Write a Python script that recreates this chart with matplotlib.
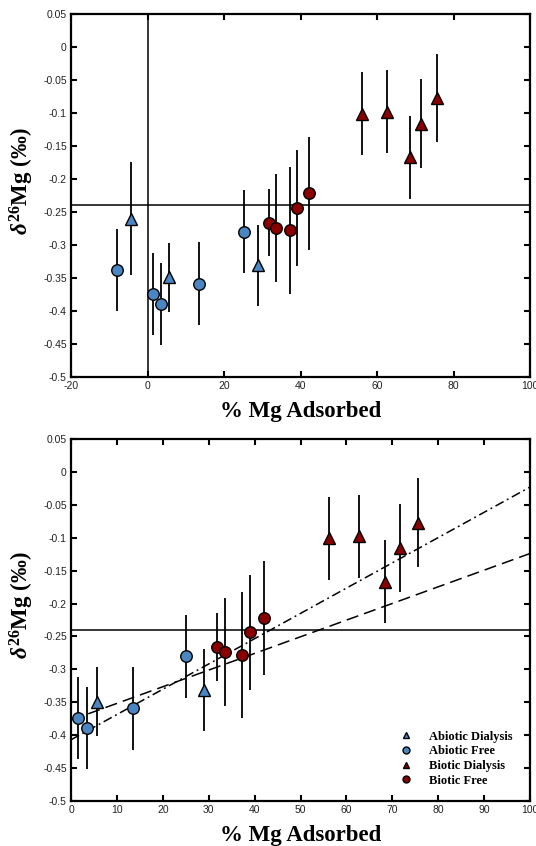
import numpy as np
import matplotlib
matplotlib.use("Agg")
import matplotlib.pyplot as plt
from matplotlib.ticker import FixedLocator, FixedFormatter

plt.rcParams['axes.unicode_minus'] = False
plt.rcParams['mathtext.fontset'] = 'custom'
plt.rcParams['mathtext.rm'] = 'Liberation Serif:bold'
plt.rcParams['mathtext.it'] = 'Liberation Serif:bold:italic'
plt.rcParams['mathtext.bf'] = 'Liberation Serif:bold'

# data
abiotic_dial_x = [-4.3, 5.7, 29.0]
abiotic_dial_y = [-0.260, -0.349, -0.331]
abiotic_dial_err = [0.086, 0.052, 0.062]

abiotic_free_x = [-7.9, 1.5, 3.5, 13.5, 25.1]
abiotic_free_y = [-0.338, -0.374, -0.389, -0.359, -0.280]
abiotic_free_err = [0.062, 0.062, 0.062, 0.063, 0.063]

biotic_dial_x = [56.1, 62.7, 68.5, 71.6, 75.7]
biotic_dial_y = [-0.101, -0.098, -0.167, -0.116, -0.077]
biotic_dial_err = [0.063, 0.063, 0.063, 0.067, 0.067]

biotic_free_x = [31.8, 33.5, 37.2, 39.0, 42.1]
biotic_free_y = [-0.266, -0.274, -0.278, -0.244, -0.222]
biotic_free_err = [0.051, 0.082, 0.096, 0.088, 0.086]

ref_level = -0.24
fit_x = [0, 100]
fit_dashed_y = [-0.377, -0.124]
fit_dashdot_y = [-0.407, -0.023]

yticks = [0.05, 0, -0.05, -0.1, -0.15, -0.2, -0.25, -0.3, -0.35, -0.4, -0.45, -0.5]
ytick_labels = ['0.05', '0', '-0.05', '-0.1', '-0.15', '-0.2', '-0.25', '-0.3',
                '-0.35', '-0.4', '-0.45', '-0.5']
xticks_top = [-20, 0, 20, 40, 60, 80, 100]
xticks_bottom = [0, 10, 20, 30, 40, 50, 60, 70, 80, 90, 100]

blue = '#4a87c2'
red = '#8a0000'

series = [
    ('Abiotic Dialysis', abiotic_dial_x, abiotic_dial_y, abiotic_dial_err, '^', blue),
    ('Abiotic Free', abiotic_free_x, abiotic_free_y, abiotic_free_err, 'o', blue),
    ('Biotic Dialysis', biotic_dial_x, biotic_dial_y, biotic_dial_err, '^', red),
    ('Biotic Free', biotic_free_x, biotic_free_y, biotic_free_err, 'o', red),
]

fig = plt.figure(figsize=(5.36, 8.46), dpi=100)
ax1 = fig.add_axes([0.1325, 0.5544, 0.8563, 0.4291])
ax2 = fig.add_axes([0.1325, 0.0532, 0.8563, 0.4279])


def draw(ax, xlim, xticks):
    for name, x, y, e, m, c in series:
        ax.errorbar(x, y, yerr=e, fmt='none', ecolor='black', elinewidth=1.3,
                    capsize=0, zorder=2)
        ax.plot(x, y, linestyle='none', marker=m, markersize=8.3, color=c,
                markeredgecolor='black', markeredgewidth=1.0, zorder=3, label=name)
    ax.axhline(ref_level, color='black', lw=1.1, zorder=1)
    ax.set_xlim(xlim)
    ax.set_ylim(-0.5, 0.05)
    ax.yaxis.set_major_locator(FixedLocator(yticks))
    ax.yaxis.set_major_formatter(FixedFormatter(ytick_labels))
    ax.set_xticks(xticks)
    ax.set_xticklabels([str(t) for t in xticks])
    ax.tick_params(direction='in', length=4, width=1.5, top=True, right=True,
                   labelsize=7.5, pad=3, labelcolor='#222222')
    for lbl in ax.get_xticklabels() + ax.get_yticklabels():
        lbl.set_family('Liberation Sans')
    for sp in ax.spines.values():
        sp.set_linewidth(1.6)
    ax.set_xlabel('% Mg Adsorbed', family='Liberation Serif', fontweight='bold',
                  fontsize=16.5, labelpad=7)
    ax.set_ylabel(r'$\delta^{26}$Mg (‰)', family='Liberation Serif',
                  fontweight='bold', fontsize=16.5)
    ax.yaxis.set_label_coords(-0.076, 0.54)


draw(ax1, (-20, 100), xticks_top)
ax1.axvline(0, color='black', lw=1.1, zorder=1)

draw(ax2, (0, 100), xticks_bottom)
ax2.plot(fit_x, fit_dashed_y, color='black', lw=1.1, dashes=(8, 4), zorder=1)
ax2.plot(fit_x, fit_dashdot_y, color='black', lw=1.1, dashes=(6, 2.5, 1.2, 2.5), zorder=1)

handles, labels = ax2.get_legend_handles_labels()
leg = ax2.legend(handles, labels, loc='lower right', bbox_to_anchor=(0.98, 0.015),
                 frameon=False, markerscale=0.6, handlelength=1.0,
                 handletextpad=1.3, labelspacing=0.22, borderpad=0.2,
                 prop={'family': 'Liberation Serif', 'weight': 'bold', 'size': 9})

fig.savefig('out.png', dpi=100)
